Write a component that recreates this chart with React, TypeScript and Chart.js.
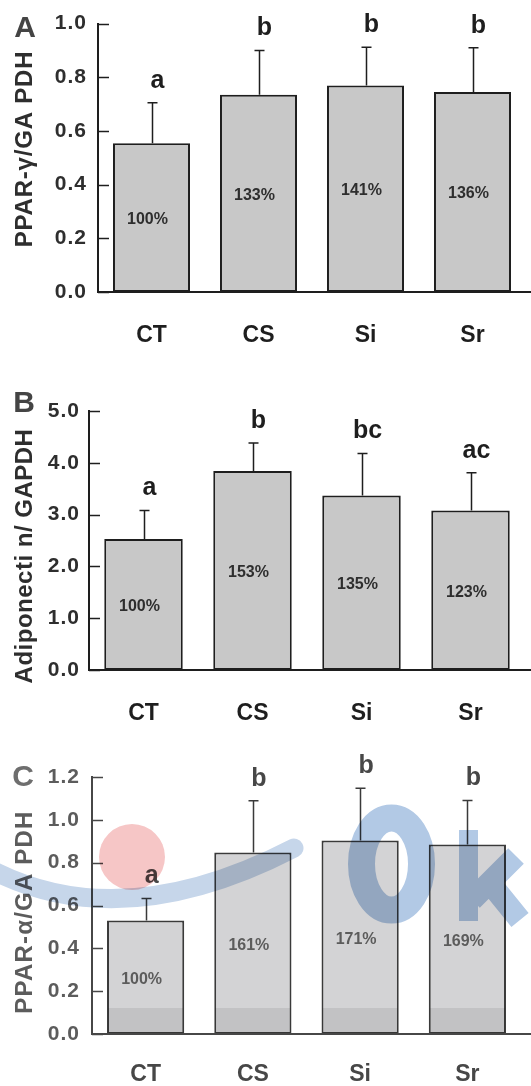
import React, { useEffect, useRef } from 'react';
import { Chart, registerables } from 'chart.js';

Chart.register(...registerables);

// ---------- data ----------
const categories = ['CT', 'CS', 'Si', 'Sr'];

const ppargMeans = [0.554, 0.735, 0.769, 0.745];
const ppargErrors = [0.151, 0.165, 0.143, 0.165];
const ppargLetters = ['a', 'b', 'b', 'b'];
const ppargPercents = [100, 133, 141, 136];

const adipoMeans = [2.53, 3.84, 3.37, 3.08];
const adipoErrors = [0.55, 0.54, 0.81, 0.73];
const adipoLetters = ['a', 'b', 'bc', 'ac'];
const adipoPercents = [100, 153, 135, 123];

const pparaMeans = [0.53, 0.848, 0.904, 0.885];
const pparaErrors = [0.103, 0.241, 0.244, 0.205];
const pparaLetters = ['a', 'b', 'b', 'b'];
const pparaPercents = [100, 161, 171, 169];

const FONT = "'Liberation Sans', Arial, Helvetica, sans-serif";

type PanelCfg = {
  means: number[];
  errors: number[];
  letters: string[];
  percents: number[];
  title: string;
  panelLetter: string;
  panelX: number;
  panelY: number;
  titleY: number;
  titleSpacing: string;
  height: number;
  left: number;
  top: number;
  right: number;
  bottom: number;
  yMax: number;
  step: number;
  tickPad: number;
  xPad: number;
  ink: string;
  soft: string;
  barFill: string;
  barEdge: string;
  watermark: boolean;
};

const panels: PanelCfg[] = [
  {
    means: ppargMeans, errors: ppargErrors, letters: ppargLetters, percents: ppargPercents,
    title: 'PPAR-γ/GA PDH', panelLetter: 'A', panelX: 25, panelY: 29,
    titleY: 149, titleSpacing: '0.8px',
    height: 360, left: 98, top: 21, right: 526, bottom: 292, yMax: 1.0, step: 0.2,
    tickPad: 11, xPad: 30, ink: '#1e1e1e', soft: '#2e2e2e', barFill: '#c8c8c8', barEdge: '#1e1e1e',
    watermark: false,
  },
  {
    means: adipoMeans, errors: adipoErrors, letters: adipoLetters, percents: adipoPercents,
    title: 'Adiponecti n/ GAPDH', panelLetter: 'B', panelX: 24, panelY: 44,
    titleY: 196, titleSpacing: '0.5px',
    height: 360, left: 89, top: 51, right: 525, bottom: 310, yMax: 5, step: 1,
    tickPad: 9, xPad: 30, ink: '#1e1e1e', soft: '#2e2e2e', barFill: '#c8c8c8', barEdge: '#1e1e1e',
    watermark: false,
  },
  {
    means: pparaMeans, errors: pparaErrors, letters: pparaLetters, percents: pparaPercents,
    title: 'PPAR-α/GA PDH', panelLetter: 'C', panelX: 23, panelY: 58,
    titleY: 192, titleSpacing: '1.2px',
    height: 366, left: 92, top: 57, right: 521, bottom: 314, yMax: 1.2, step: 0.2,
    tickPad: 12, xPad: 27, ink: '#474747', soft: '#5c5c5c', barFill: '#d3d3d5', barEdge: '#3a3a3a',
    watermark: true,
  },
];

function decorPlugin(cfg: PanelCfg) {
  return {
    id: 'decor',
    beforeDraw(chart: any) {
      (chart.ctx as any).letterSpacing = '1px';
    },
    beforeDatasetsDraw(chart: any) {
      (chart.ctx as any).letterSpacing = '0px';
    },
    afterDatasetsDraw(chart: any) {
      const ctx = chart.ctx as CanvasRenderingContext2D;
      const area = chart.chartArea;
      const y = chart.scales.y;
      const meta = chart.getDatasetMeta(0);
      ctx.save();
      (ctx as any).letterSpacing = '0px';
      // x axis line extended to the canvas edge
      ctx.strokeStyle = cfg.ink;
      ctx.lineWidth = 2;
      ctx.beginPath();
      ctx.moveTo(area.left - 1, area.bottom);
      ctx.lineTo(chart.width, area.bottom);
      ctx.stroke();
      // inward tick marks
      ctx.lineWidth = 1.5;
      y.ticks.forEach((t: any) => {
        const py = Math.round(y.getPixelForValue(t.value)) + 0.5;
        ctx.beginPath();
        ctx.moveTo(area.left, py);
        ctx.lineTo(area.left + 11, py);
        ctx.stroke();
      });
      meta.data.forEach((bar: any, i: number) => {
        const top = y.getPixelForValue(cfg.means[i]);
        const errTop = y.getPixelForValue(cfg.means[i] + cfg.errors[i]);
        const x = Math.round(bar.x) + 0.5;
        // error bar
        ctx.strokeStyle = cfg.barEdge;
        ctx.lineWidth = 1.5;
        ctx.beginPath();
        ctx.moveTo(x, top);
        ctx.lineTo(x, errTop);
        ctx.moveTo(x - 5, errTop);
        ctx.lineTo(x + 5, errTop);
        ctx.stroke();
        // significance letter
        ctx.fillStyle = cfg.ink;
        ctx.font = `bold 25px ${FONT}`;
        ctx.textAlign = 'center';
        ctx.textBaseline = 'middle';
        ctx.fillText(cfg.letters[i], bar.x + 6, errTop - 22);
        // percentage
        ctx.fillStyle = cfg.soft;
        ctx.font = `bold 16px ${FONT}`;
        ctx.fillText(`${cfg.percents[i]}%`, bar.x - 4, (top + area.bottom) / 2 + 2);
      });
      ctx.restore();
    },
    afterDraw(chart: any) {
      const ctx = chart.ctx as CanvasRenderingContext2D;
      ctx.save();
      // axis title
      (ctx as any).letterSpacing = cfg.titleSpacing;
      ctx.fillStyle = cfg.soft;
      ctx.font = `bold 24px ${FONT}`;
      ctx.textAlign = 'center';
      ctx.textBaseline = 'alphabetic';
      ctx.save();
      ctx.translate(32, cfg.titleY);
      ctx.rotate(-Math.PI / 2);
      ctx.fillText(cfg.title, 0, 0);
      ctx.restore();
      // panel letter
      (ctx as any).letterSpacing = '0px';
      ctx.font = `bold 30px ${FONT}`;
      ctx.textBaseline = 'middle';
      ctx.fillStyle = cfg.watermark ? '#6e6e6e' : '#444444';
      ctx.fillText(cfg.panelLetter, cfg.panelX, cfg.panelY);

      if (cfg.watermark) {
        const area = chart.chartArea;
        const meta = chart.getDatasetMeta(0);
        ctx.globalCompositeOperation = 'multiply';
        // darker scan band across the bar bottoms
        ctx.fillStyle = '#ebebeb';
        meta.data.forEach((bar: any) => {
          const w = bar.width;
          ctx.fillRect(bar.x - w / 2 + 1, area.bottom - 26, w - 2, 25);
        });
        // pink disc
        ctx.fillStyle = '#f6c6c6';
        ctx.beginPath();
        ctx.arc(132, 137, 33, 0, Math.PI * 2);
        ctx.fill();
        // blue swoosh
        ctx.strokeStyle = '#c6d6ea';
        ctx.lineWidth = 19;
        ctx.lineCap = 'round';
        ctx.beginPath();
        ctx.moveTo(-12, 148);
        ctx.quadraticCurveTo(120, 218, 294, 128);
        ctx.stroke();
        // "O"
        ctx.strokeStyle = '#b2c9e5';
        ctx.lineWidth = 27;
        ctx.beginPath();
        ctx.ellipse(391.5, 144, 30, 46, 0, 0, Math.PI * 2);
        ctx.stroke();
        // "k" as one filled shape (no double-darkened overlaps)
        ctx.fillStyle = '#b2c9e5';
        ctx.beginPath();
        ctx.rect(459, 110, 19, 91);
        ctx.moveTo(464.2, 172.2);
        ctx.lineTo(508.2, 128.2);
        ctx.lineTo(523.8, 143.8);
        ctx.lineTo(479.8, 187.8);
        ctx.closePath();
        ctx.moveTo(494.6, 151.1);
        ctx.lineTo(528.6, 193.1);
        ctx.lineTo(511.4, 206.9);
        ctx.lineTo(477.4, 164.9);
        ctx.closePath();
        ctx.fill('nonzero');
      }
      ctx.restore();
    },
  };
}

function Panel({ cfg }: { cfg: PanelCfg }) {
  const ref = useRef<HTMLCanvasElement>(null);
  useEffect(() => {
    const canvas = ref.current!;
    const chart = new Chart(canvas, {
      type: 'bar',
      data: {
        labels: categories,
        datasets: [
          {
            data: cfg.means,
            backgroundColor: cfg.barFill,
            borderColor: cfg.barEdge,
            borderWidth: 2,
            borderSkipped: false,
            barPercentage: 0.72,
            categoryPercentage: 1,
          },
        ],
      },
      options: {
        responsive: false,
        animation: false,
        devicePixelRatio: 1,
        layout: { padding: { top: cfg.top, right: 531 - cfg.right, left: 0, bottom: 0 } },
        plugins: {
          legend: { display: false },
          tooltip: { enabled: false },
          title: { display: false },
        },
        scales: {
          x: {
            grid: { display: false, drawTicks: false },
            border: { display: false },
            ticks: {
              z: 1,
              padding: cfg.xPad,
              color: cfg.ink,
              font: { family: FONT, size: 23, weight: 'bold' },
            },
            afterFit: (s: any) => {
              s.height = cfg.height - cfg.bottom;
            },
          },
          y: {
            min: 0,
            max: cfg.yMax,
            grid: { display: false, drawTicks: false },
            border: { display: true, color: cfg.ink, width: 2 },
            ticks: {
              stepSize: cfg.step,
              padding: cfg.tickPad,
              color: cfg.soft,
              font: { family: FONT, size: 21, weight: 'bold' },
              callback: (v: any) => Number(v).toFixed(1),
            },
            afterFit: (s: any) => {
              s.width = cfg.left;
            },
          },
        },
      } as any,
      plugins: [decorPlugin(cfg)],
    });
    return () => chart.destroy();
  }, [cfg]);
  return (
    <canvas
      ref={ref}
      width={531}
      height={cfg.height}
      style={{ display: 'block', width: 531, height: cfg.height }}
    />
  );
}

export default function App() {
  return (
    <div
      style={{
        position: 'absolute',
        left: 0,
        top: 0,
        width: 531,
        height: 1086,
        background: '#ffffff',
        overflow: 'hidden',
      }}
    >
      {panels.map((p, i) => (
        <Panel key={i} cfg={p} />
      ))}
    </div>
  );
}
